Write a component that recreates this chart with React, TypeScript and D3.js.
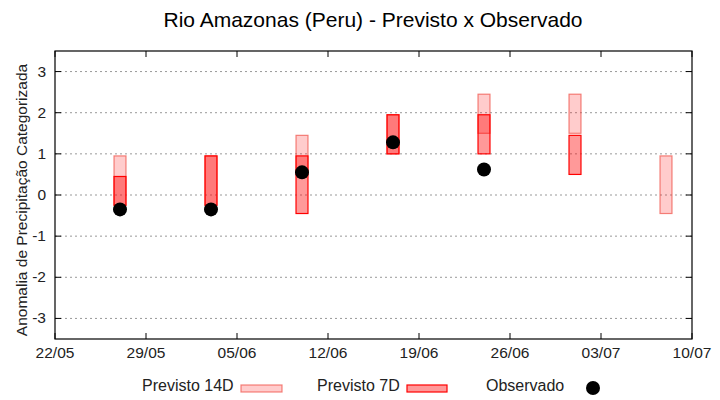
import React from 'react';
import * as d3 from 'd3';

// forecast windows (dd/mm, 2024) and category ranges
const dates = ['2024-05-27', '2024-06-03', '2024-06-10', '2024-06-17', '2024-06-24', '2024-07-01', '2024-07-08'];
const prev14Low = [-0.25, -0.25, 0.5, 1.0, 1.5, 1.5, -0.45];
const prev14High = [0.95, 0.95, 1.45, 1.95, 2.45, 2.45, 0.95];
const prev7Low: (number | null)[] = [-0.25, -0.25, -0.45, 1.0, 1.0, 0.5, null];
const prev7High: (number | null)[] = [0.45, 0.95, 0.95, 1.95, 1.95, 1.45, null];
const observed: (number | null)[] = [-0.35, -0.35, 0.55, 1.28, 0.62, null, null];

const xTickLabels = ['22/05', '29/05', '05/06', '12/06', '19/06', '26/06', '03/07', '10/07'];
const yTicks = [-3, -2, -1, 0, 1, 2, 3];

const W = 720;
const H = 400;
const margin = { top: 51, right: 28, bottom: 61, left: 55 };
const font = '"Liberation Sans", Arial, sans-serif';

const fill14 = 'rgba(255,0,0,0.2)';
const stroke14 = 'rgba(240,80,70,0.7)';
const fill7 = 'rgba(255,0,0,0.4)';
const stroke7 = '#ff0000';

export default function App() {
  const parse = d3.utcParse('%Y-%m-%d');
  const day = 24 * 3600 * 1000;

  const x = d3.scaleUtc()
    .domain([parse('2024-05-22')!, parse('2024-07-10')!])
    .range([margin.left, W - margin.right]);
  const y = d3.scaleLinear()
    .domain([-3.5, 3.5])
    .range([H - margin.bottom, margin.top]);

  const xTicks = xTickLabels.map((_, i) => new Date(+parse('2024-05-22')! + i * 7 * day));
  const fmt = d3.utcFormat('%d/%m');
  const halfW = 0.46 * day;

  const x0 = margin.left;
  const x1 = W - margin.right;
  const y0 = margin.top;
  const y1 = H - margin.bottom;

  const box = (d: Date, lo: number, hi: number) => ({
    x: x(new Date(+d - halfW)),
    y: y(hi),
    w: x(new Date(+d + halfW)) - x(new Date(+d - halfW)),
    h: y(lo) - y(hi),
  });

  return (
    <div style={{ position: 'absolute', left: 0, top: 0 }}>
      <svg width={W} height={H} style={{ display: 'block', fontFamily: font }}>
        <rect width={W} height={H} fill="#fff" />
        <text x={373} y={27} textAnchor="middle" fontSize={21} fill="#000">
          Rio Amazonas (Peru) - Previsto x Observado
        </text>

        {/* grid and ticks */}
        {yTicks.map(t => (
          <g key={'y' + t}>
            <line x1={x0} x2={x1} y1={y(t)} y2={y(t)} stroke="#999" strokeDasharray="2,3" />
            <line x1={x0} x2={x0 + 6} y1={y(t)} y2={y(t)} stroke="#000" />
            <line x1={x1 - 6} x2={x1} y1={y(t)} y2={y(t)} stroke="#000" />
            <text x={x0 - 9} y={y(t) + 5} textAnchor="end" fontSize={15.5} fill="#222">{t}</text>
          </g>
        ))}
        {xTicks.map((t, i) => (
          <g key={'x' + i}>
            <line x1={x(t)} x2={x(t)} y1={y1} y2={y1 - 6} stroke="#000" />
            <line x1={x(t)} x2={x(t)} y1={y0} y2={y0 + 6} stroke="#000" />
            <text x={x(t)} y={y1 + 19} textAnchor="middle" fontSize={15.5} fill="#222">{fmt(t)}</text>
          </g>
        ))}

        <text
          transform={`translate(27,200) rotate(-90)`}
          textAnchor="middle"
          fontSize={15.5}
          fill="#222"
        >
          Anomalia de Precipitação Categorizada
        </text>

        {/* 14-day forecast */}
        {dates.map((s, i) => {
          const b = box(parse(s)!, prev14Low[i], prev14High[i]);
          return <rect key={'a' + i} x={b.x} y={b.y} width={b.w} height={b.h} fill={fill14} stroke={stroke14} strokeWidth={1.2} />;
        })}
        {/* 7-day forecast */}
        {dates.map((s, i) => {
          const lo = prev7Low[i];
          const hi = prev7High[i];
          if (lo == null || hi == null) return null;
          const b = box(parse(s)!, lo, hi);
          return <rect key={'b' + i} x={b.x} y={b.y} width={b.w} height={b.h} fill={fill7} stroke={stroke7} strokeWidth={1.2} />;
        })}
        {/* observed */}
        {dates.map((s, i) => {
          const v = observed[i];
          if (v == null) return null;
          return <circle key={'c' + i} cx={x(parse(s)!)} cy={y(v)} r={7} fill="#000" />;
        })}

        <rect x={x0} y={y0} width={x1 - x0} height={y1 - y0} fill="none" stroke="#000" strokeWidth={1.2} />

        {/* legend */}
        <g fontSize={16} fill="#222">
          <text x={142} y={391}>Previsto 14D</text>
          <rect x={241} y={385} width={41} height={7} fill={fill14} stroke={stroke14} strokeWidth={1.2} />
          <text x={317} y={391}>Previsto 7D</text>
          <rect x={407} y={385} width={40} height={7} fill={fill7} stroke={stroke7} strokeWidth={1.2} />
          <text x={486} y={391}>Observado</text>
          <circle cx={593} cy={388} r={7} fill="#000" />
        </g>
      </svg>
    </div>
  );
}
